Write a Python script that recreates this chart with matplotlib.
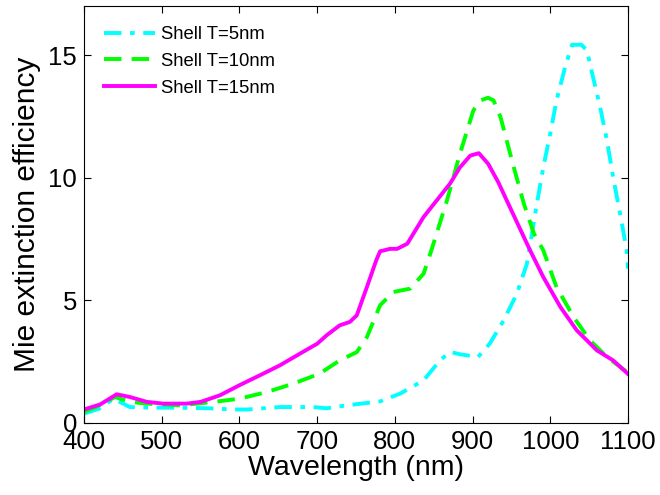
import matplotlib
matplotlib.use("Agg")
import matplotlib.pyplot as plt

plt.rcParams['font.family'] = ['Liberation Sans', 'DejaVu Sans']

# Shell T=5nm
wl_5 = [400, 420, 438, 459, 481, 520, 560, 592, 610, 652, 695, 712, 738, 781, 807, 837,
        858, 871, 884, 907, 922, 940, 957, 970, 982, 991, 1000, 1008, 1019, 1028, 1040,
        1047, 1055, 1064, 1073, 1081, 1090, 1098, 1100]
ext_5 = [0.38, 0.59, 0.99, 0.65, 0.63, 0.62, 0.6, 0.55, 0.55, 0.65, 0.65, 0.6, 0.72, 0.88, 1.2, 1.74,
         2.55, 2.9, 2.8, 2.69, 3.23, 4.18, 5.27, 6.5, 8.8, 10.43, 11.8, 13.15, 14.5, 15.42, 15.42,
         15.2, 14.1, 12.9, 11.5, 10.0, 8.5, 7.1, 6.3]

# Shell T=10nm
wl_10 = [400, 420, 440, 459, 481, 524, 567, 600, 635, 669, 703, 729, 751, 764, 781, 798,
         820, 837, 847, 867, 884, 901, 910, 920, 927, 936, 944, 953, 966, 979, 991, 1008,
         1030, 1051, 1073, 1100]
ext_10 = [0.45, 0.72, 1.06, 0.86, 0.79, 0.72, 0.86, 0.99, 1.26, 1.6, 2.01, 2.55, 2.89, 3.5, 4.8, 5.34,
          5.48, 6.09, 7.04, 9.07, 11.0, 12.74, 13.15, 13.26, 13.15, 12.47, 11.5, 10.43, 8.94, 7.72, 7.04, 5.54,
          4.32, 3.37, 2.69, 2.05]

# Shell T=15nm
wl_15 = [400, 421, 442, 459, 481, 502, 532, 550, 575, 600, 626, 652, 678, 700, 712, 729,
         742, 751, 764, 776, 781, 794, 803, 816, 837, 871, 884, 897, 908, 920, 933, 948,
         966, 974, 991, 1013, 1034, 1060, 1081, 1100]
ext_15 = [0.55, 0.76, 1.17, 1.06, 0.86, 0.79, 0.79, 0.86, 1.13, 1.54, 1.94, 2.35, 2.83, 3.23, 3.57, 3.98,
          4.12, 4.39, 5.54, 6.63, 7.0, 7.1, 7.1, 7.31, 8.4, 9.76, 10.43, 10.9, 11.0, 10.57, 9.82, 8.8,
          7.58, 7.04, 5.95, 4.73, 3.78, 2.96, 2.55, 2.0]

fig = plt.figure(figsize=(6.6, 4.95), dpi=100)
ax = fig.add_axes([84 / 660, 1 - 423 / 495, 544 / 660, 417 / 495])

ax.plot(wl_5, ext_5, color='#00ffff', lw=2.8, dashes=(4.5, 2.2, 1.2, 2.2), label='Shell T=5nm')
ax.plot(wl_10, ext_10, color='#00ff00', lw=2.8, dashes=(4.5, 2.6), label='Shell T=10nm')
ax.plot(wl_15, ext_15, '-', color='#ff00ff', lw=2.8, label='Shell T=15nm')

ax.set_xlim(400, 1100)
ax.set_ylim(0, 17)
ax.set_xticks(range(400, 1101, 100))
ax.set_yticks([0, 5, 10, 15])
ax.tick_params(direction='in', top=True, right=True, length=5, width=0.8,
               labelsize=18.5)
ax.tick_params(axis='x', pad=5)
ax.tick_params(axis='y', pad=5)
ax.set_xlabel('Wavelength (nm)', fontsize=20.5, labelpad=1)
ax.set_ylabel('Mie extinction efficiency', fontsize=21.5, labelpad=5)

ax.legend(loc='upper left', frameon=False, fontsize=13.3, handlelength=2.75,
          handletextpad=0.3, labelspacing=0.52, borderaxespad=0.7)

fig.savefig('out.png', dpi=100)
